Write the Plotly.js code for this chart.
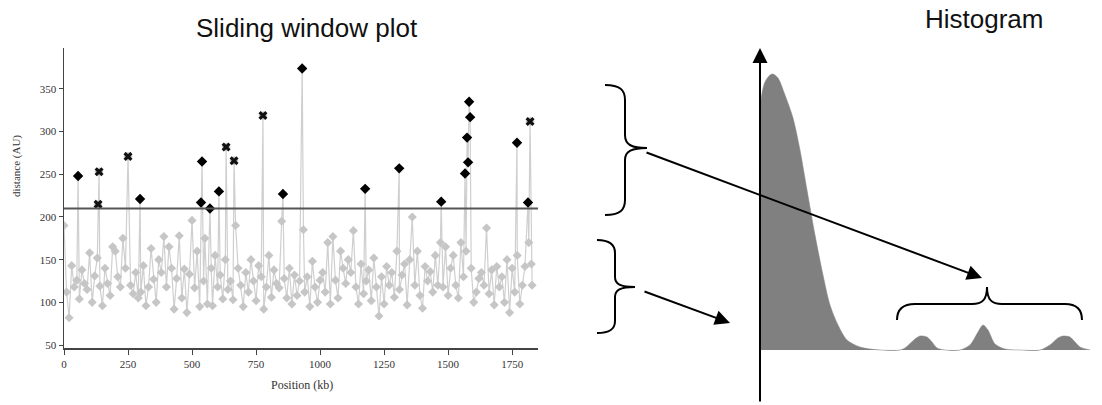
<!DOCTYPE html>
<html>
<head>
<meta charset="utf-8">
<script src="https://cdn.plot.ly/plotly-3.0.1.min.js"></script>
<style>html,body{margin:0;padding:0;background:#fff;}#chart{width:1102px;height:405px;}</style>
</head>
<body>
<div id="chart"></div>
<script>
// ---- Sliding window plot data (position in kb, distance in AU) ----
const windowPos = [
  0,10,20,30,40,50,55,60,70,80,90,
  100,110,120,130,133,137,140,150,160,170,180,190,
  200,210,220,230,240,250,260,270,280,290,297,
  300,310,320,330,340,350,360,370,380,390,
  400,410,420,430,440,450,460,470,480,490,
  500,510,520,530,535,539,545,550,560,570,575,580,590,
  600,605,610,620,630,633,640,650,660,664,670,680,690,
  700,710,720,730,740,750,760,770,777,780,790,
  800,810,820,830,840,850,855,860,870,880,890,
  900,910,920,930,935,940,950,960,970,980,990,
  1000,1010,1020,1030,1040,1050,1060,1070,1080,1090,
  1100,1110,1120,1130,1140,1150,1160,1170,1176,1180,1190,
  1200,1210,1220,1230,1240,1250,1260,1270,1280,1290,
  1300,1309,1310,1320,1330,1340,1350,1360,1370,1380,1390,
  1400,1410,1420,1430,1440,1450,1460,1470,1473,1480,1490,
  1500,1510,1520,1530,1540,1550,1560,1566,1570,1574,1578,1582,1586,1590,
  1600,1610,1620,1630,1640,1650,1660,1670,1680,1690,
  1700,1710,1720,1730,1740,1750,1760,1769,1770,1780,1790,
  1800,1812,1815,1820,1825,1828
];
const windowDist = [
  190,112,82,143,118,126,248,104,138,122,115,
  158,100,131,152,215,253,119,96,140,122,108,165,
  160,130,118,175,140,271,120,110,135,105,221,
  112,143,96,118,163,127,100,150,135,177,
  118,165,140,92,128,178,105,139,88,133,
  196,117,160,95,217,265,125,175,98,210,140,96,155,
  118,230,132,104,150,282,115,125,103,266,190,140,120,
  95,135,112,150,125,102,143,130,319,92,118,
  155,106,138,122,117,195,227,128,105,140,98,
  132,108,125,374,185,112,130,95,148,118,100,
  126,135,112,170,98,177,126,105,160,140,
  122,150,135,184,118,98,145,110,233,125,138,
  102,152,118,84,130,98,142,120,135,106,
  160,257,115,132,145,97,150,200,120,160,108,
  93,142,125,136,112,155,120,170,218,118,165,
  108,140,155,120,105,170,130,251,160,293,264,335,317,140,
  100,112,128,135,120,187,110,138,97,142,
  118,130,100,150,88,140,112,287,155,98,120,
  142,217,170,312,145,120
];
// windows above the threshold, marked in black
const diamondPos  = [55,297,535,539,570,605,855,930,1176,1309,1473,1566,1574,1578,1582,1586,1769,1812];
const diamondDist = [248,221,217,265,210,230,227,374,233,257,218,251,293,264,335,317,287,217];
const crossPos  = [133,137,250,633,664,777,1820];
const crossDist = [215,253,271,282,266,319,312];
const threshold = 210;
const yTicks = [50,100,150,200,250,300,350];
const xTicks = [0,250,500,750,1000,1250,1500,1750];

// ---- Schematic histogram (arbitrary units) ----
const histX = [1,1,5,10,13,18,25,33,40,47,55,63,70,78,87,100,120,140,
               145,155,160,167,172,177,185,200,210,218,223,228,235,245,260,
               280,290,298,303,310,315,320,330];
const histY = [0,250,268,275,276,272,255,232,200,160,115,75,45,25,10,3,0,0,
               2,11,14,13,8,2,0,0,5,18,25,20,6,1,0,
               0,5,12,14,13,8,3,0];

const serif = 'Liberation Serif, Times New Roman, serif';
const sans = 'Liberation Sans, Arial, sans-serif';

const traces = [
  {x: windowPos, y: windowDist, type: 'scatter', mode: 'lines+markers',
   line: {color: '#cfcfcf', width: 1.2},
   marker: {symbol: 'diamond', size: 7, color: '#c6c6c6'},
   xaxis: 'x', yaxis: 'y', hoverinfo: 'skip'},
  {x: diamondPos, y: diamondDist, type: 'scatter', mode: 'markers',
   marker: {symbol: 'diamond', size: 8, color: '#000'}, xaxis: 'x', yaxis: 'y'},
  {x: crossPos, y: crossDist, type: 'scatter', mode: 'markers',
   marker: {symbol: 'x', size: 8, color: '#111'}, xaxis: 'x', yaxis: 'y'},
  {x: histX, y: histY, type: 'scatter', mode: 'lines', fill: 'tozeroy',
   fillcolor: '#808080', line: {color: '#808080', width: 0.5, shape: 'spline', smoothing: 0.8},
   xaxis: 'x2', yaxis: 'y2'}
];

const W = 1102, H = 405;
const px = v => v / W, py = v => 1 - v / H;

const layout = {
  width: W, height: H,
  margin: {l: 0, r: 0, t: 0, b: 0},
  paper_bgcolor: '#fff', plot_bgcolor: 'rgba(0,0,0,0)',
  showlegend: false,
  xaxis: {domain: [px(64), px(538)], range: [0, 1851], tickvals: xTicks,
          showline: true, linecolor: '#444', linewidth: 1.5, ticks: 'outside', ticklen: 5,
          tickcolor: '#444', showgrid: false, zeroline: false,
          tickfont: {family: serif, size: 11, color: '#333'}},
  yaxis: {domain: [py(348), py(48)], range: [46.5, 398], tickvals: yTicks,
          showline: true, linecolor: '#444', linewidth: 1.5, ticks: 'outside', ticklen: 4,
          tickcolor: '#444', showgrid: false, zeroline: false,
          tickfont: {family: serif, size: 11, color: '#333'}},
  xaxis2: {domain: [px(590), 1], range: [-170, 342], visible: false, anchor: 'y2'},
  yaxis2: {domain: [0, py(40)], range: [-55, 310], visible: false, anchor: 'x2'},
  shapes: [
    {type: 'line', xref: 'x', yref: 'y', x0: 0, x1: 1851, y0: threshold, y1: threshold,
     line: {color: '#555', width: 2}},
    {type: 'path', xref: 'x2', yref: 'y2', line: {color: '#000', width: 2},
     path: 'M -155,265 C -140,265 -135,260 -135,250 L -135,215 C -135,205 -128,202 -113,202 C -128,202 -135,199 -135,190 L -135,150 C -135,140 -140,135 -155,135'},
    {type: 'path', xref: 'x2', yref: 'y2', line: {color: '#000', width: 2},
     path: 'M -163,110 C -150,110 -145,105 -145,97 L -145,73 C -145,66 -140,63 -125,63 C -140,63 -145,60 -145,53 L -145,29 C -145,21 -150,17 -163,17'},
    {type: 'path', xref: 'x2', yref: 'y2', line: {color: '#000', width: 2},
     path: 'M 137,30 C 137,40 142,46 155,46 L 212,46 C 222,46 227,50 227,63 C 227,50 232,46 242,46 L 305,46 C 317,46 322,40 322,30'}
  ],
  annotations: [
    {text: 'Sliding window plot', xref: 'paper', yref: 'paper', x: px(307), y: py(28),
     xanchor: 'center', yanchor: 'middle',
     showarrow: false, font: {family: sans, size: 26, color: '#111'}},
    {text: 'Histogram', xref: 'paper', yref: 'paper', x: px(984), y: py(19),
     xanchor: 'center', yanchor: 'middle',
     showarrow: false, font: {family: sans, size: 26, color: '#111'}},
    {text: 'distance (AU)', xref: 'paper', yref: 'paper', x: px(16), y: py(166), textangle: -90,
     xanchor: 'center', yanchor: 'middle',
     showarrow: false, font: {family: serif, size: 11, color: '#333'}},
    {text: 'Position (kb)', xref: 'paper', yref: 'paper', x: px(302), y: py(385),
     xanchor: 'center', yanchor: 'middle',
     showarrow: false, font: {family: serif, size: 12, color: '#333'}},
    // histogram axes
    {text: '', xref: 'x2', yref: 'y2', x: 0, y: 302, ax: 0, ay: 355, showarrow: true,
     arrowhead: 2, arrowsize: 1.5, arrowwidth: 2, arrowcolor: '#000'},
    {text: '', xref: 'x2', yref: 'y2', x: 350, y: 0, ax: -402, ay: 0, showarrow: true,
     arrowhead: 2, arrowsize: 1.5, arrowwidth: 2, arrowcolor: '#000'},
    // arrows from the braces
    {text: '', xref: 'x2', yref: 'y2', x: 222, y: 72, ax: -337, ay: -126, showarrow: true,
     arrowhead: 2, arrowsize: 1.5, arrowwidth: 2, arrowcolor: '#000'},
    {text: '', xref: 'x2', yref: 'y2', x: -30, y: 27, ax: -87, ay: -32, showarrow: true,
     arrowhead: 2, arrowsize: 1.5, arrowwidth: 2, arrowcolor: '#000'}
  ]
};

Plotly.newPlot('chart', traces, layout, {staticPlot: true, displayModeBar: false});
</script>
</body>
</html>
